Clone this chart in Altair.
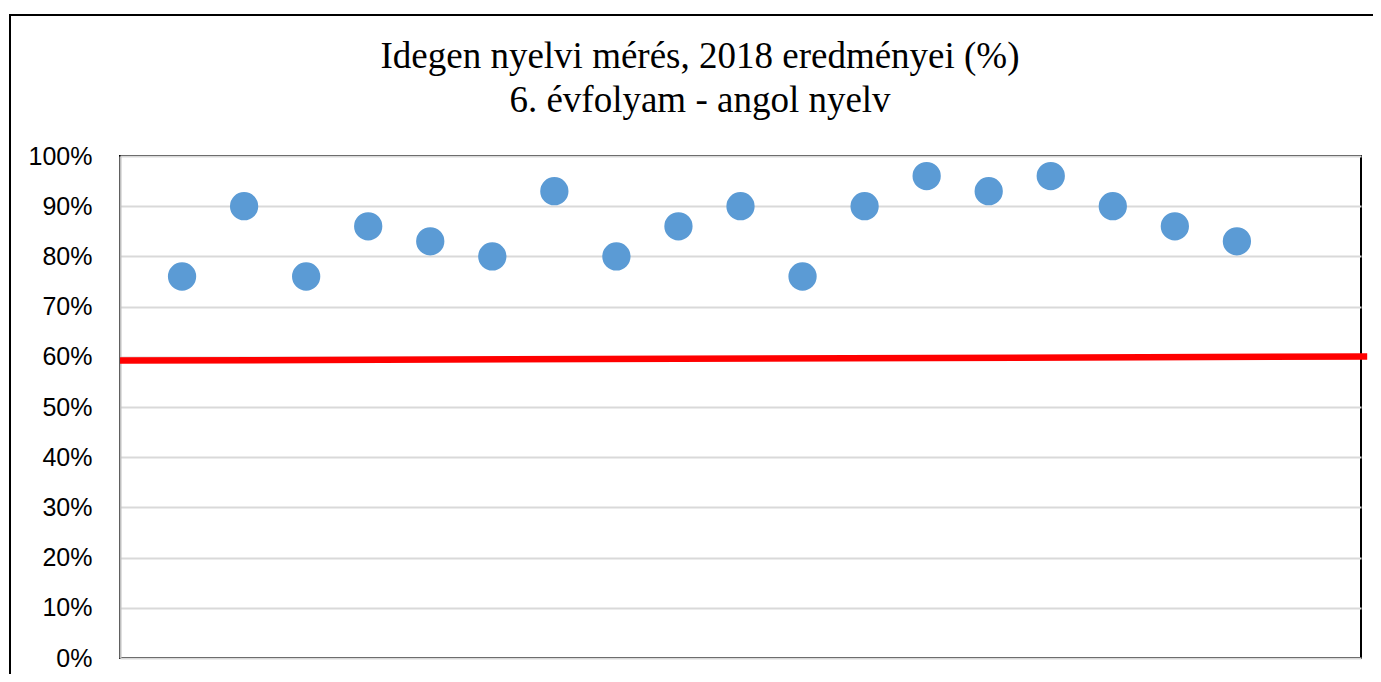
import altair as alt
import pandas as pd

# Data
positions = list(range(1, 19))
scores = [76, 90, 76, 86, 83, 80, 93, 80, 86, 90, 76, 90, 96, 93, 96, 90, 86, 83]
line_x = [0, 20.1]
line_y = [59.25, 60.05]
y_ticks = [0, 10, 20, 30, 40, 50, 60, 70, 80, 90, 100]
title_lines = ["Idegen nyelvi mérés, 2018 eredményei (%)", "6. évfolyam - angol nyelv"]

pts = pd.DataFrame({"x": positions, "y": scores})
ln = pd.DataFrame({"x": line_x, "y": line_y})

xs = alt.Scale(domain=[0, 20], nice=False, zero=False)
ys = alt.Scale(domain=[0, 100], nice=False)

yaxis = alt.Axis(
    values=y_ticks,
    labelExpr="datum.value + '%'",
    ticks=False,
    labelPadding=28,
    labelFont="Liberation Sans",
    labelFontSize=25,
    labelColor="#000000",
    domainColor="#BFBFBF",
    domainWidth=2,
    gridColor="#D9D9D9",
    gridWidth=2,
    title=None,
)

frame = alt.Chart(pd.DataFrame({"a": [0]})).mark_rect(
    fillOpacity=0, stroke="#000000", strokeWidth=2, clip=False
).encode(
    x=alt.value(-110), x2=alt.value(1320), y=alt.value(-141), y2=alt.value(600)
)

points = alt.Chart(pts).mark_circle(size=800, opacity=1, color="#5B9BD5").encode(
    x=alt.X("x:Q", scale=xs, axis=None),
    y=alt.Y("y:Q", scale=ys, axis=yaxis),
)

redline = alt.Chart(ln).mark_line(color="#FF0000", strokeWidth=6.5, clip=False).encode(
    x=alt.X("x:Q", scale=xs, axis=None),
    y=alt.Y("y:Q", scale=ys, axis=yaxis),
)

t1 = alt.Chart(pd.DataFrame({"t": [title_lines[0]]})).mark_text(
    font="Liberation Serif", fontSize=37, align="center", baseline="alphabetic", color="#000000"
).encode(text="t:N", x=alt.value(580), y=alt.value(-87.7))

t2 = alt.Chart(pd.DataFrame({"t": [title_lines[1]]})).mark_text(
    font="Liberation Serif", fontSize=37, align="center", baseline="alphabetic", color="#000000"
).encode(text="t:N", x=alt.value(580), y=alt.value(-44.3))

chart = alt.layer(frame, points, redline, t1, t2).properties(
    width=1241,
    height=502,
    autosize=alt.AutoSizeParams(type="none"),
    padding={"left": 112, "top": 148, "right": 12, "bottom": 16},
).configure_view(
    stroke="#000000", strokeWidth=2
)

chart.save("out.html", embed_options={"renderer": "svg", "actions": False})
